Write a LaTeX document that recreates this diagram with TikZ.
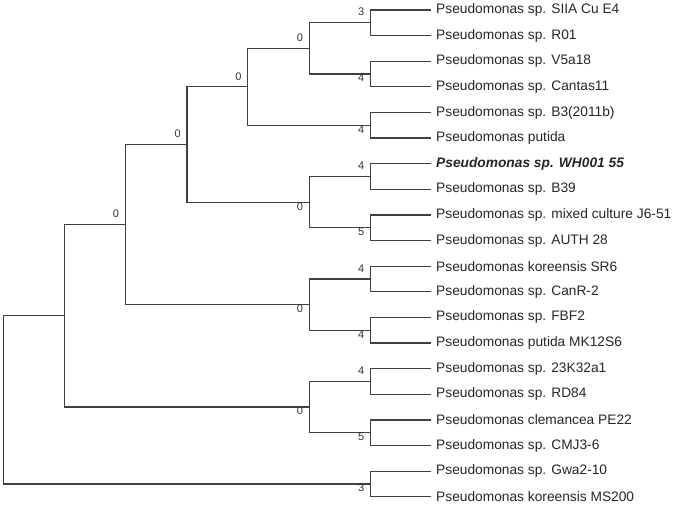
\documentclass[tikz,border=0pt]{standalone}
\usepackage{fontspec}
\setmainfont{Liberation Sans}
\usetikzlibrary{positioning}
\tikzset{
  brn/.style={draw=black!75,line width=1.25pt},
  lf/.style ={anchor=west,inner xsep=5pt,inner ysep=0pt,text=black!85,
              font=\fontsize{13.75}{16}\selectfont},
  lfb/.style={lf,font=\fontsize{13.75}{16}\selectfont\bfseries\itshape},
  bsu/.style={anchor=south east,inner sep=0pt,xshift=-6pt,yshift=6.5pt,
              text=black!80,font=\fontsize{11}{12}\selectfont},
  bsd/.style={bsu,anchor=north east,yshift=-6.5pt},
}

\begin{document}
\begin{tikzpicture}[x=1pt,y=-1pt]
  \useasboundingbox (0,0) rectangle (675,505);
  % leaves
  \foreach \i/\t in {1/{Pseudomonas sp. SIIA Cu E4},2/{Pseudomonas sp. R01},
      3/{Pseudomonas sp. V5a18},4/{Pseudomonas sp. Cantas11},
      5/{Pseudomonas sp. B3(2011b)},6/{Pseudomonas putida},
      8/{Pseudomonas sp. B39},9/{Pseudomonas sp. mixed culture J6-51},
      10/{Pseudomonas sp. AUTH 28},11/{Pseudomonas koreensis SR6},
      12/{Pseudomonas sp. CanR-2},13/{Pseudomonas sp. FBF2},
      14/{Pseudomonas putida MK12S6},15/{Pseudomonas sp. 23K32a1},
      16/{Pseudomonas sp. RD84},17/{Pseudomonas clemancea PE22},
      18/{Pseudomonas sp. CMJ3-6},19/{Pseudomonas sp. Gwa2-10},
      20/{Pseudomonas koreensis MS200}}
    \node[lf] (l\i) at (431,{10+25.62*(\i-1)}) {\t};
  \node[lfb] (l7) at (431,{10+25.62*6}) {Pseudomonas sp. WH001 55};
  % inner nodes
  \coordinate (c1) at (370.5,22.81);
  \coordinate (c2) at (370.5,74.05);
  \coordinate (c3) at (370.5,125.29);
  \coordinate (c4) at (370.5,176.53);
  \coordinate (c5) at (370.5,227.77);
  \coordinate (c6) at (370.5,279.01);
  \coordinate (c7) at (370.5,330.25);
  \coordinate (c8) at (370.5,381.49);
  \coordinate (c9) at (370.5,432.73);
  \coordinate (c10) at (370.5,483.97);
  \coordinate (q1) at (309.3,48.43);
  \coordinate (q2) at (309.3,202.15);
  \coordinate (q3) at (309.3,304.63);
  \coordinate (q4) at (309.3,407.11);
  \coordinate (r1) at (247.7,86.86);
  \coordinate (s1) at (187,144.5);
  \coordinate (t1) at (125.3,224.57);
  \coordinate (u1) at (64.7,315.84);
  \coordinate (rt) at (3.3,399.9);
  % branches
  \foreach \c/\a/\b in {c1/l1/l2,c2/l3/l4,c3/l5/l6,c4/l7/l8,c5/l9/l10,
      c6/l11/l12,c7/l13/l14,c8/l15/l16,c9/l17/l18,c10/l19/l20}
    \draw[brn] (\a.west) -| (\c) |- (\b.west);
  \foreach \p/\a/\b in {q1/c1/c2,q2/c4/c5,q3/c6/c7,q4/c8/c9,r1/q1/c3,
      s1/r1/q2,t1/s1/q3,u1/t1/q4,rt/u1/c10}
    \draw[brn] (\a) -| (\p) |- (\b);
  % bootstrap values
  \node[bsu] (b1) at (c1) {3};
  \node[bsd] (b2) at (c2) {4};
  \node[bsu] (b3) at (q1) {0};
  \node[bsd] (b4) at (c3) {4};
  \node[bsu] (b5) at (r1) {0};
  \node[bsu] (b6) at (c4) {4};
  \node[bsd] (b7) at (c5) {5};
  \node[bsd] (b8) at (q2) {0};
  \node[bsu] (b9) at (s1) {0};
  \node[bsu] (b10) at (c6) {4};
  \node[bsd] (b11) at (c7) {4};
  \node[bsd] (b12) at (q3) {0};
  \node[bsu] (b13) at (t1) {0};
  \node[bsu] (b14) at (c8) {4};
  \node[bsd] (b15) at (c9) {5};
  \node[bsd] (b16) at (q4) {0};
  \node[bsd] (b17) at (c10) {3};
\end{tikzpicture}
\end{document}
